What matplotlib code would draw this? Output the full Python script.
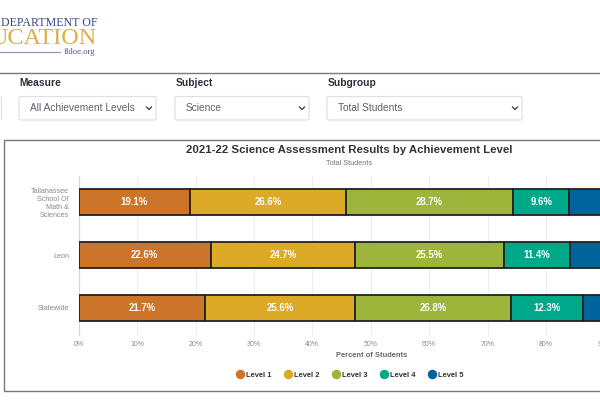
import matplotlib
matplotlib.use("Agg")
import matplotlib.pyplot as plt
from matplotlib.patches import Rectangle, FancyBboxPatch
from matplotlib.lines import Line2D

plt.rcParams['font.family'] = ['Liberation Sans', 'DejaVu Sans']

categories = ["Tallahassee\nSchool Of\nMath &\nSciences", "Leon", "Statewide"]
levels = ["Level 1", "Level 2", "Level 3", "Level 4", "Level 5"]
level1 = [19.1, 22.6, 21.7]
level2 = [26.6, 24.7, 25.6]
level3 = [28.7, 25.5, 26.8]
level4 = [9.6, 11.4, 12.3]
level5 = [16.1, 15.8, 13.6]
series = [level1, level2, level3, level4, level5]
colors = ["#CC752A", "#DDAA27", "#9DB53A", "#00A88A", "#00649C"]
xticks = list(range(0, 101, 10))
title = "2021-22 Science Assessment Results by Achievement Level"
subtitle = "Total Students"
xlabel = "Percent of Students"
filters = [("Measure", "All Achievement Levels"), ("Subject", "Science"), ("Subgroup", "Total Students")]
W, H = 600, 400

fig = plt.figure(figsize=(W / 100, H / 100), dpi=100, facecolor="white")

# page layer in pixel coordinates
bg = fig.add_axes([0, 0, 1, 1], zorder=0)
bg.set_xlim(0, W); bg.set_ylim(H, 0); bg.axis("off")

# logo
bg.text(98, 22.5, "A DEPARTMENT OF", family="Liberation Serif", fontsize=8.6, color="#2F4A84",
        ha="right", va="center")
bg.text(97, 39, "UCATION", family="Liberation Serif", fontsize=17.5, color="#DDB040",
        ha="right", va="center")
bg.plot([0, 60], [52, 52], color="#8E9CC4", lw=0.9)
bg.text(95, 52, "fldoe.org", family="Liberation Serif", fontsize=6.2, color="#4A5A88",
        ha="right", va="center")

# separators
bg.plot([0, W], [72.5, 72.5], color="#777777", lw=1.0)

# filter controls
boxes = [(19, 156), (175, 309), (327, 522)]
for (label, value), (x0, x1) in zip(filters, boxes):
    bg.text(x0 + 0.5, 83, label, fontsize=7.4, fontweight="bold", color="#2B3038", va="center")
    bg.add_patch(FancyBboxPatch((x0, 96.5), x1 - x0, 23.5, boxstyle="round,pad=0,rounding_size=2",
                                fc="white", ec="#DDE1E6", lw=0.9))
    bg.text(x0 + 11, 108, value, fontsize=7.3, color="#5A626B", va="center")
    bg.plot([x1 - 9.5, x1 - 7, x1 - 4.5], [107, 109.5, 107], color="#343A40", lw=0.9)
bg.plot([0.5, 0.5], [97, 119], color="#DDE1E6", lw=0.9)

# chart frame
bg.add_patch(Rectangle((3.5, 139.5), W + 20, 251.5, fc="white", ec="#777777", lw=1.0))

# chart
px0 = 78.7
px_width = 584
top, bottom = 175.5, 334.5
ax = fig.add_axes([px0 / W, 1 - bottom / H, px_width / W, (bottom - top) / H], zorder=1)
ax.patch.set_alpha(0)
y = list(range(len(categories)))
left = [0.0] * len(categories)
for name, vals, col in zip(levels, series, colors):
    ax.barh(y, vals, left=left, height=0.5, color=col, edgecolor="#222222", linewidth=1.3, zorder=3, label=name)
    for yi, l, v in zip(y, left, vals):
        ax.text(l + v / 2, yi, f"{v:.1f}%", ha="center", va="center", color="white",
                fontsize=6.9, fontweight="bold", zorder=4)
    left = [a + b for a, b in zip(left, vals)]

ax.set_xlim(0, 100)
ax.set_ylim(2.5, -0.5)
ax.set_yticks(y)
ax.set_yticklabels(categories, fontsize=5.2, color="#8A8A8A", linespacing=1.23, ha="right", multialignment="right")
ax.set_xticks(xticks)
ax.set_xticklabels([f"{t}%" for t in xticks], fontsize=5.0, color="#8A8A8A")
ax.tick_params(axis="both", length=0)
ax.tick_params(axis="y", pad=7)
ax.tick_params(axis="x", pad=5)
ax.grid(axis="x", color="#EDEDED", lw=0.8, zorder=0)
ax.set_axisbelow(True)
for s in ax.spines.values():
    s.set_visible(False)
ax.spines["left"].set_visible(True)
ax.spines["left"].set_color("#CCD6EB")
ax.spines["left"].set_linewidth(0.8)

fig.text(349.5 / W, 1 - 150 / H, title, ha="center", va="center", fontsize=8.2, fontweight="bold", color="#333333")
fig.text(349 / W, 1 - 164 / H, subtitle, ha="center", va="center", fontsize=5.3, color="#777777")
fig.text(371.5 / W, 1 - 355.5 / H, xlabel, ha="center", va="center", fontsize=5.4, fontweight="bold", color="#666666")

handles = [Line2D([], [], marker="o", ls="none", ms=5.8, mfc=c, mec=c, label=n) for n, c in zip(levels, colors)]
leg = fig.legend(handles=handles, ncol=5, loc="center", bbox_to_anchor=(349 / W, 1 - 375 / H),
                 frameon=False, fontsize=5.4, handletextpad=0.2, columnspacing=1.4, handlelength=1.4,
                 borderpad=0)
for t in leg.get_texts():
    t.set_fontweight("bold")
    t.set_color("#333333")

fig.savefig("out.png", dpi=100)
